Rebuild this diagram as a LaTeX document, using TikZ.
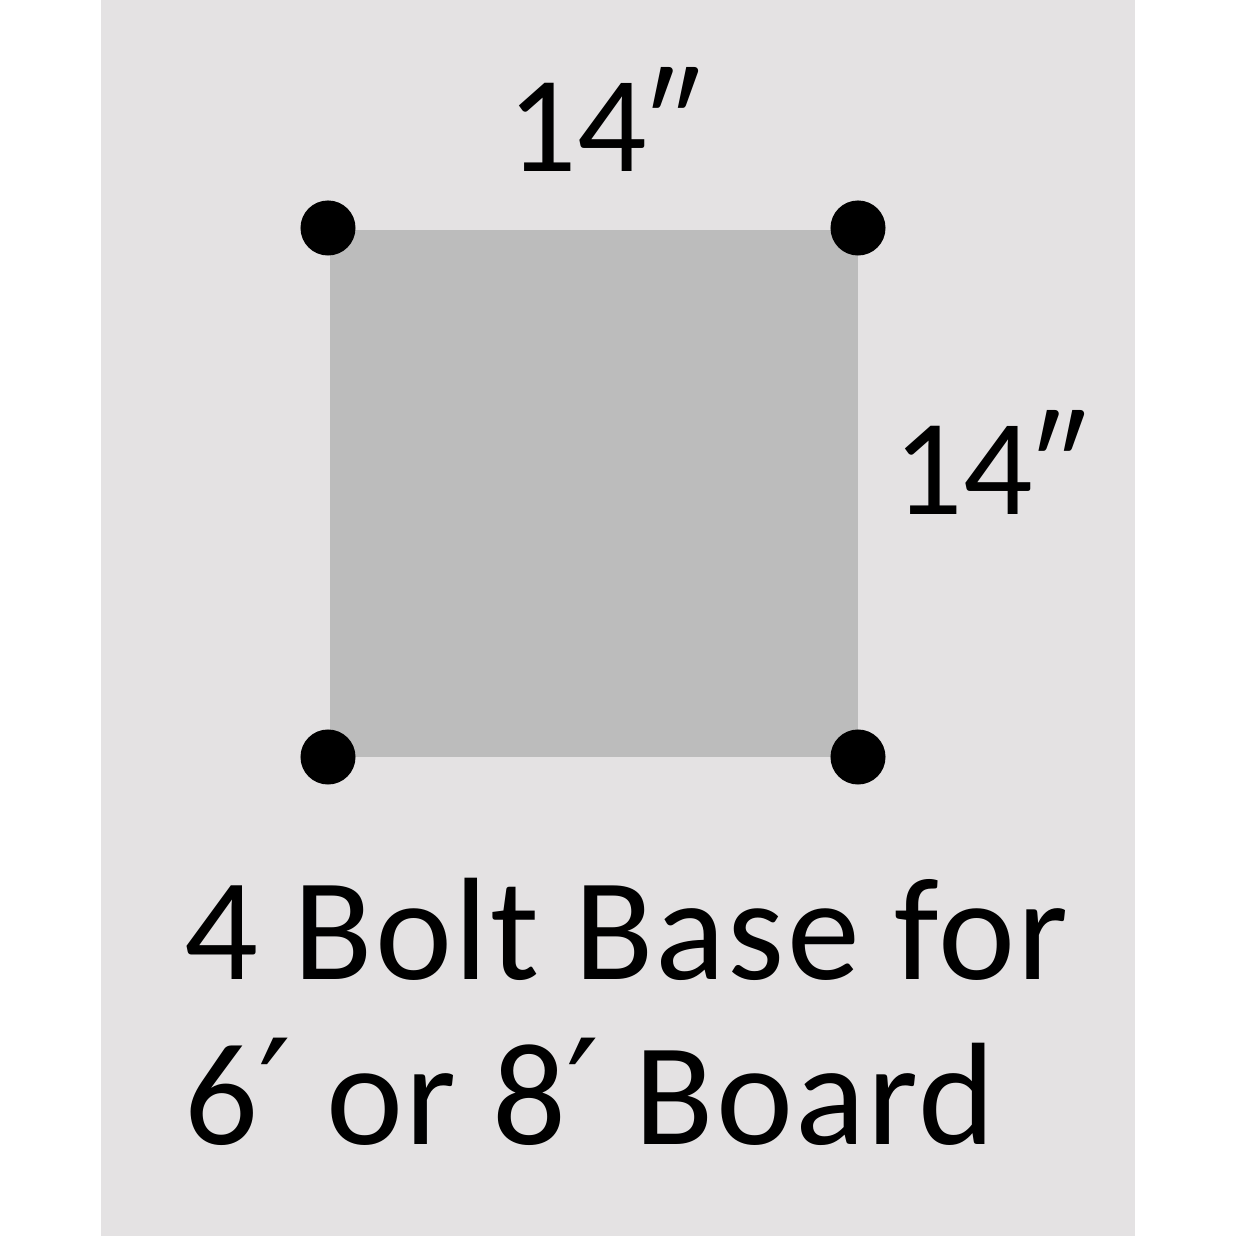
\documentclass[tikz,border=0pt]{standalone}
\usepackage{fontspec}
\setmainfont{Carlito}
\newfontfamily\primefont{DejaVu Sans}
\newcommand{\ftprime}{{\primefont ′}}
\definecolor{panelgrey}{HTML}{E4E2E3}
\definecolor{plategrey}{HTML}{BCBCBC}
\tikzset{
  bolt/.style={circle,fill=black,inner sep=0pt,minimum size=0.55cm},
  dimlabel/.style={anchor=base west,inner sep=0pt,font=\fontsize{39}{47}\selectfont},
  baselabel/.style={anchor=base west,inner sep=0pt,
    font=\fontsize{41.5}{50}\selectfont\addfontfeature{LetterSpace=1.5}},
}
\begin{document}
\begin{tikzpicture}[x=0.01cm,y=0.01cm]
    % Background
    \fill[white] (0,0) rectangle (1236,1236);
    \useasboundingbox (0,0) rectangle (1236,1236);
    \fill[panelgrey] (101,0) rectangle (1135,1236);

    % Plate
    \fill[plategrey] (330,479) rectangle (858,1006);

    % Bolts
    \node[bolt] (tl) at (328,1008) {};
    \node[bolt] (tr) at (858,1008) {};
    \node[bolt] (bl) at (328,479) {};
    \node[bolt] (br) at (858,479) {};

    % Labels
    \node[dimlabel] (top) at (507,1064) {14″};
    \node[dimlabel] (side) at (893,721) {14″};
    \node[baselabel] (line1) at (184,256) {4 Bolt Base for};
    \node[baselabel] (line2) at (184,91) {6\ftprime{} or 8\ftprime{} Board};
\end{tikzpicture}
\end{document}
